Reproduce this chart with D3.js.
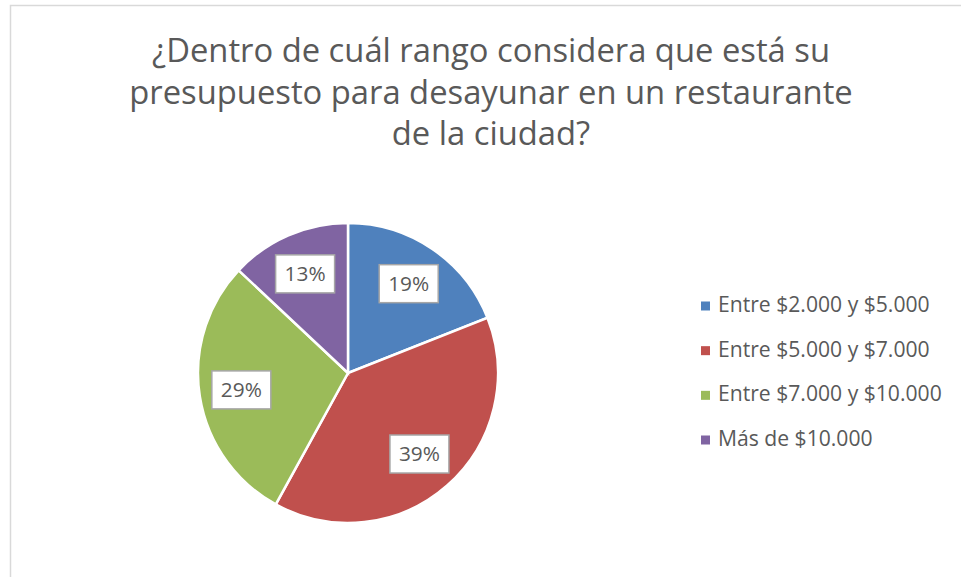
<!DOCTYPE html>
<html>
<head>
<meta charset="utf-8">
<script src="https://cdn.jsdelivr.net/npm/d3@7"></script>
<style>
  body { margin: 0; background: #fff; }
  text { font-family: "Open Sans", "Noto Sans", sans-serif; fill: #595959; }
</style>
</head>
<body>
<div id="chart"></div>
<script>
// Chart data
var titleLines = ["¿Dentro de cuál rango considera que está su", "presupuesto para desayunar en un restaurante", "de la ciudad?"];
var categories = ["Entre $2.000 y $5.000", "Entre $5.000 y $7.000", "Entre $7.000 y $10.000", "Más de $10.000"];
var values = [19, 39, 29, 13];
var colors = ["#4F81BD", "#C0504D", "#9BBB59", "#8064A2"];

var W = 961, H = 577;
var cx = 348, cy = 373, radius = 150;

const svg = d3.select("#chart")
  .append("svg")
  .attr("width", W)
  .attr("height", H);

// chart frame (only left and top edges are visible)
svg.append("rect")
  .attr("x", 10.5)
  .attr("y", 5.5)
  .attr("width", W + 20)
  .attr("height", H + 20)
  .attr("fill", "#fff")
  .attr("stroke", "#d9d9d9")
  .attr("stroke-width", 1.5);

// fit a font size so the text gets a target width
function fitSize(sel, target, start) {
  sel.style("font-size", start + "px");
  var w = sel.node().getComputedTextLength();
  var s = start * target / w;
  sel.style("font-size", s + "px");
  return s;
}

// Title
var title = svg.append("g");
var titleY = [62, 104, 145];
var tsize = null;
titleLines.forEach(function (line, i) {
  var t = title.append("text")
    .attr("x", 491)
    .attr("y", titleY[i])
    .attr("text-anchor", "middle")
    .text(line);
  if (i === 0) tsize = fitSize(t, 678, 30);
  else t.style("font-size", tsize + "px");
});

// Pie
var pie = d3.pie().sort(null).value(function (d) { return d; });
var arcs = pie(values);
var arc = d3.arc().innerRadius(0).outerRadius(radius);
var labelArc = d3.arc().innerRadius(radius * 0.72).outerRadius(radius * 0.72);

var g = svg.append("g").attr("transform", "translate(" + cx + "," + cy + ")");

g.selectAll("path.slice")
  .data(arcs)
  .enter()
  .append("path")
  .attr("class", "slice")
  .attr("d", arc)
  .attr("fill", function (d, i) { return colors[i]; })
  .attr("stroke", "#fff")
  .attr("stroke-width", 2.5);

// Data labels in white boxes
var total = d3.sum(values);
var lsize = null;
arcs.forEach(function (d, i) {
  var c = labelArc.centroid(d);
  var lg = g.append("g").attr("transform", "translate(" + c[0] + "," + c[1] + ")");
  var box = lg.append("rect");
  var t = lg.append("text")
    .attr("text-anchor", "middle")
    .attr("dy", "0.35em")
    .text(Math.round(values[i] / total * 100) + "%");
  if (lsize === null) lsize = fitSize(t, 41, 22);
  else t.style("font-size", lsize + "px");
  var w = t.node().getComputedTextLength();
  box.attr("x", -w / 2 - 9)
    .attr("y", -19)
    .attr("width", w + 18)
    .attr("height", 38)
    .attr("fill", "#fff")
    .attr("stroke", "#a6a6a6")
    .attr("stroke-width", 1.5);
});

// Legend
var legend = svg.append("g").attr("transform", "translate(701,0)");
var legendY = d3.scaleLinear().domain([0, 3]).range([312, 446]);
var legsize = null;
categories.forEach(function (c, i) {
  legend.append("rect")
    .attr("x", 0)
    .attr("y", legendY(i) - 10.5)
    .attr("width", 9)
    .attr("height", 9)
    .attr("fill", colors[i]);
  var t = legend.append("text")
    .attr("x", 17)
    .attr("y", legendY(i))
    .text(c);
  if (i === 2) { legsize = fitSize(t, 224, 20); }
});
legend.selectAll("text").style("font-size", function () { return legsize + "px"; });
</script>
</body>
</html>
